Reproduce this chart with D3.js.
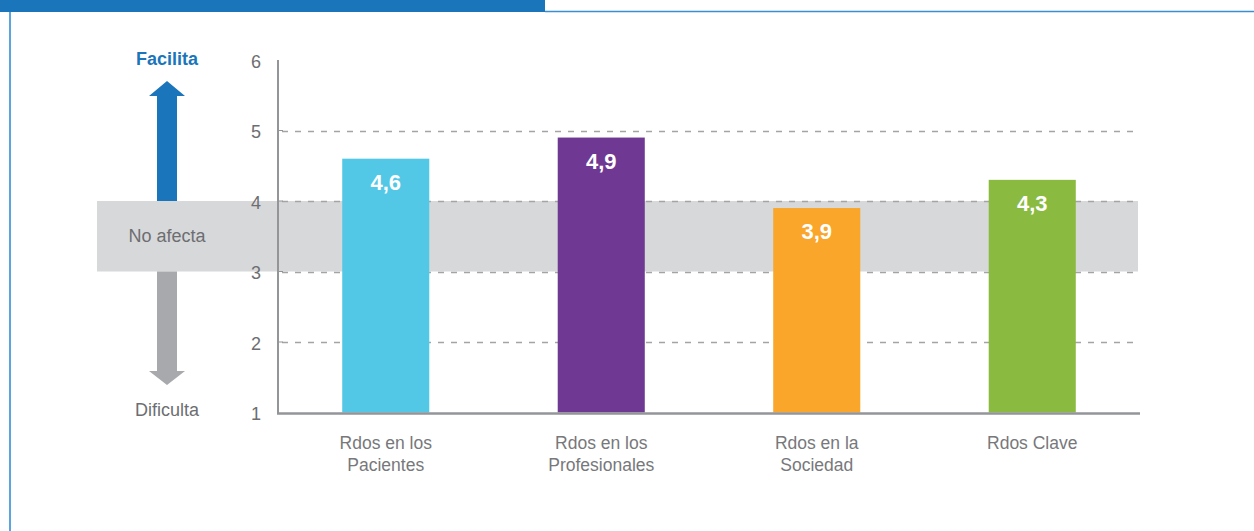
<!DOCTYPE html>
<html>
<head>
<meta charset="utf-8">
<script src="https://cdn.jsdelivr.net/npm/d3@7"></script>
<style>
  html, body { margin: 0; padding: 0; background: #fff; }
  svg { display: block; font-family: "Liberation Sans", Arial, sans-serif; }
</style>
</head>
<body>
<svg id="chart" width="1254" height="531"></svg>
<script>
// Categories (two-line labels) and their scores
const categories = ["Rdos en los Pacientes", "Rdos en los Profesionales", "Rdos en la Sociedad", "Rdos Clave"];
const categoryLines = [["Rdos en los", "Pacientes"], ["Rdos en los", "Profesionales"], ["Rdos en la", "Sociedad"], ["Rdos Clave"]];
const values = [4.6, 4.9, 3.9, 4.3];
const valueLabels = ["4,6", "4,9", "3,9", "4,3"];
const barColors = ["#52c8e6", "#6f3993", "#f9a62b", "#8aba3f"];
const yTicks = [1, 2, 3, 4, 5, 6];
const neutralBand = [3, 4];

const svg = d3.select("#chart");

// Frame: header block, top rule and left rule
svg.append("rect").attr("x", 0).attr("y", 0).attr("width", 545).attr("height", 12).attr("fill", "#1b75bb");
svg.append("line").attr("x1", 545).attr("x2", 1254).attr("y1", 11.5).attr("y2", 11.5)
  .attr("stroke", "#3a8fd4").attr("stroke-width", 1.5);
svg.append("line").attr("x1", 10).attr("x2", 10).attr("y1", 12).attr("y2", 531)
  .attr("stroke", "#5aa5df").attr("stroke-width", 2);

const x = d3.scaleBand().domain(categories).range([278, 1140]).paddingInner(0.596).paddingOuter(0.298);
const y = d3.scaleLinear().domain([1, 6]).range([412.5, 60]);

// Neutral band
svg.append("rect")
  .attr("x", 97).attr("width", 1138 - 97)
  .attr("y", y(neutralBand[1])).attr("height", y(neutralBand[0]) - y(neutralBand[1]))
  .attr("fill", "#d7d8da");

// Dashed gridlines
svg.append("g").selectAll("line").data(yTicks.filter(t => t > 1 && t < 6)).join("line")
  .attr("x1", 282).attr("x2", 1138)
  .attr("y1", d => Math.round(y(d)) + 0.5).attr("y2", d => Math.round(y(d)) + 0.5)
  .attr("stroke", "#a4a4a6").attr("stroke-width", 1.3).attr("stroke-dasharray", "6,7");

// Y axis
const yAxis = d3.axisLeft(y).tickValues(yTicks).tickSize(0).tickPadding(17).tickFormat(d3.format("d"));
const gy = svg.append("g").attr("transform", "translate(278,0)").call(yAxis);
gy.select(".domain").remove();
gy.selectAll("text").attr("fill", "#6d6e71").attr("font-size", 18).attr("dy", "0.4em");
svg.append("g").selectAll("line").data(yTicks.slice(1, -1)).join("line")
  .attr("x1", 278).attr("x2", 283).attr("y1", d => y(d)).attr("y2", d => y(d))
  .attr("stroke", "#939598").attr("stroke-width", 1);
svg.append("line").attr("x1", 278).attr("x2", 278).attr("y1", y(6)).attr("y2", y(1) + 1)
  .attr("stroke", "#939598").attr("stroke-width", 2);

// Bars
svg.append("g").selectAll("rect").data(values).join("rect")
  .attr("x", (d, i) => x(categories[i]))
  .attr("width", x.bandwidth())
  .attr("y", d => y(d))
  .attr("height", d => y(1) - y(d))
  .attr("fill", (d, i) => barColors[i]);

// Value labels inside bars
svg.append("g").selectAll("text").data(values).join("text")
  .attr("x", (d, i) => x(categories[i]) + x.bandwidth() / 2)
  .attr("y", d => y(d) + 31)
  .attr("text-anchor", "middle")
  .attr("fill", "#fff").attr("font-weight", "bold").attr("font-size", 22)
  .text((d, i) => valueLabels[i]);

// X axis line
svg.append("line").attr("x1", 277).attr("x2", 1140).attr("y1", y(1) + 1).attr("y2", y(1) + 1)
  .attr("stroke", "#939598").attr("stroke-width", 2.5);

// Category labels
const cat = svg.append("g").selectAll("text").data(categories).join("text")
  .attr("x", d => x(d) + x.bandwidth() / 2)
  .attr("y", 449)
  .attr("text-anchor", "middle")
  .attr("fill", "#77787b").attr("font-size", 17.5);
cat.selectAll("tspan").data((d, i) => categoryLines[i]).join("tspan")
  .attr("x", function () { return d3.select(this.parentNode).attr("x"); })
  .attr("dy", (d, i) => i === 0 ? 0 : 22)
  .text(d => d);

// Direction arrows on the left
const ax = 167;
const upArrow = d3.path();
upArrow.moveTo(ax - 10, y(4));
upArrow.lineTo(ax - 10, 96);
upArrow.lineTo(ax - 18, 96);
upArrow.lineTo(ax, 81);
upArrow.lineTo(ax + 18, 96);
upArrow.lineTo(ax + 10, 96);
upArrow.lineTo(ax + 10, y(4));
upArrow.closePath();
svg.append("path").attr("d", upArrow.toString()).attr("fill", "#1b75bb");

const downArrow = d3.path();
downArrow.moveTo(ax - 10, y(3));
downArrow.lineTo(ax - 10, 371);
downArrow.lineTo(ax - 18, 371);
downArrow.lineTo(ax, 385);
downArrow.lineTo(ax + 18, 371);
downArrow.lineTo(ax + 10, 371);
downArrow.lineTo(ax + 10, y(3));
downArrow.closePath();
svg.append("path").attr("d", downArrow.toString()).attr("fill", "#a7a9ac");

svg.append("text").attr("x", ax).attr("y", 65).attr("text-anchor", "middle")
  .attr("fill", "#1b75bb").attr("font-weight", "bold").attr("font-size", 18).text("Facilita");
svg.append("text").attr("x", ax).attr("y", 242).attr("text-anchor", "middle")
  .attr("fill", "#6d6e71").attr("font-size", 18).text("No afecta");
svg.append("text").attr("x", ax).attr("y", 416).attr("text-anchor", "middle")
  .attr("fill", "#6d6e71").attr("font-size", 18).text("Dificulta");
</script>
</body>
</html>
